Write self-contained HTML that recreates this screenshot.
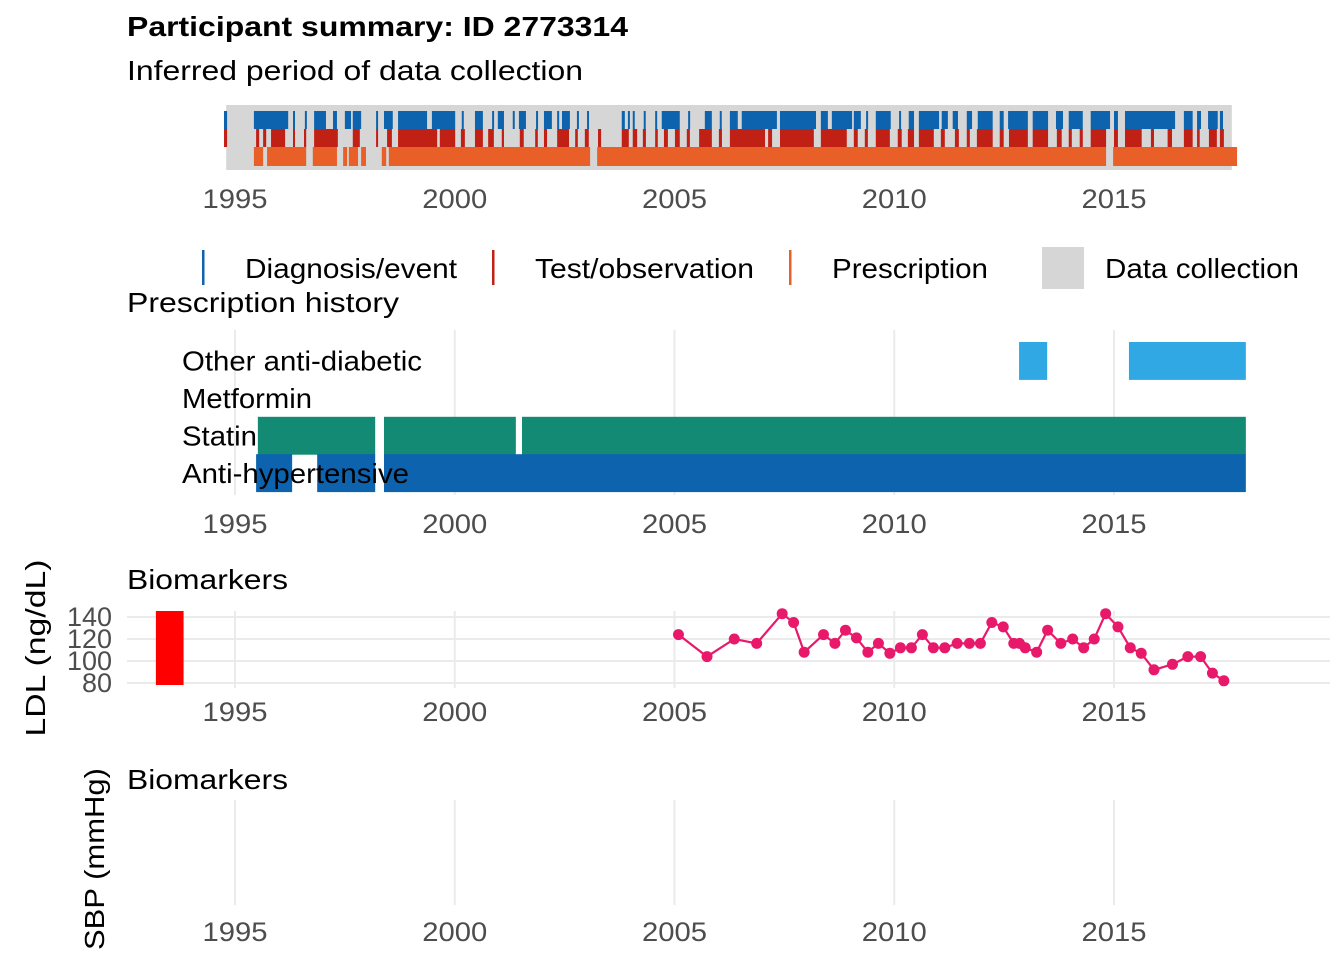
<!DOCTYPE html>
<html><head><meta charset="utf-8"><style>
html,body{margin:0;padding:0;background:#fff}
svg{display:block;font-family:"Liberation Sans",Arial,sans-serif}
</style></head><body>
<svg id="chart" width="1344" height="960" viewBox="0 0 1344 960">
<text x="127" y="36" font-size="28" font-weight="bold" fill="#000" textLength="501" lengthAdjust="spacingAndGlyphs">Participant summary: ID 2773314</text>
<text x="127" y="80" font-size="28" fill="#000" textLength="456" lengthAdjust="spacingAndGlyphs">Inferred period of data collection</text>
<g id="topPanel"></g>
<g id="legend">
  <rect x="202" y="250" width="2.5" height="35" fill="#0e63ae"/>
  <text x="245" y="278" font-size="28" fill="#000" textLength="212" lengthAdjust="spacingAndGlyphs">Diagnosis/event</text>
  <rect x="492" y="250" width="2.5" height="35" fill="#c12015"/>
  <text x="535" y="278" font-size="28" fill="#000" textLength="219" lengthAdjust="spacingAndGlyphs">Test/observation</text>
  <rect x="789" y="250" width="2.5" height="35" fill="#e85f27"/>
  <text x="832" y="278" font-size="28" fill="#000" textLength="156" lengthAdjust="spacingAndGlyphs">Prescription</text>
  <rect x="1042" y="247" width="42" height="42" fill="#d6d6d6"/>
  <text x="1105" y="278" font-size="28" fill="#000" textLength="194" lengthAdjust="spacingAndGlyphs">Data collection</text>
</g>
<text x="127" y="312" font-size="28" fill="#000" textLength="272" lengthAdjust="spacingAndGlyphs">Prescription history</text>
<g id="rx"></g>
<text x="127" y="589" font-size="28" fill="#000" textLength="161" lengthAdjust="spacingAndGlyphs">Biomarkers</text>
<g id="ldl"></g>
<text x="127" y="789" font-size="28" fill="#000" textLength="161" lengthAdjust="spacingAndGlyphs">Biomarkers</text>
<g id="sbp"></g>
<text transform="translate(45,648) rotate(-90)" text-anchor="middle" font-size="28" fill="#000" textLength="177" lengthAdjust="spacingAndGlyphs">LDL (ng/dL)</text>
<text transform="translate(104,859) rotate(-90)" text-anchor="middle" font-size="28" fill="#000" textLength="182" lengthAdjust="spacingAndGlyphs">SBP (mmHg)</text>
</svg>
<script>
const yearTicks = [1995, 2000, 2005, 2010, 2015];
const collectionPeriod = [1994.80, 2017.68];
const diagnosisEvents = [[1994.75,1994.82],[1995.43,1996.21],[1996.32,1996.34],[1996.59,1996.62],[1996.80,1997.07],[1997.23,1997.32],[1997.50,1997.64],[1997.68,1997.87],[1998.21,1998.23],[1998.39,1998.59],[1998.71,1999.37],[1999.48,2000.01],[2000.16,2000.19],[2000.46,2000.64],[2000.85,2000.87],[2000.98,2001.12],[2001.32,2001.35],[2001.46,2001.62],[2001.85,2001.87],[2002.03,2002.21],[2002.33,2002.35],[2002.44,2002.62],[2002.78,2002.80],[2003.01,2003.03],[2003.80,2003.87],[2003.94,2003.96],[2004.05,2004.08],[2004.30,2004.33],[2004.56,2004.58],[2004.71,2005.12],[2005.31,2005.33],[2005.69,2005.85],[2006.03,2006.06],[2006.26,2006.44],[2006.53,2007.33],[2007.40,2008.22],[2008.33,2008.49],[2008.58,2009.04],[2009.08,2009.24],[2009.36,2009.38],[2009.58,2009.92],[2010.11,2010.13],[2010.33,2010.45],[2010.56,2011.02],[2011.08,2011.22],[2011.33,2011.45],[2011.65,2011.77],[2011.90,2012.24],[2012.40,2012.49],[2012.59,2013.04],[2013.15,2013.50],[2013.68,2013.84],[2013.97,2014.29],[2014.47,2014.91],[2015.00,2015.09],[2015.25,2016.39],[2016.59,2016.79],[2016.89,2016.98],[2017.14,2017.36],[2017.41,2017.48]];
const testEvents = [[1994.75,1994.82],[1995.48,1995.55],[1995.64,1995.71],[1995.82,1996.14],[1996.32,1996.34],[1996.57,1996.62],[1996.80,1997.34],[1997.68,1997.84],[1998.21,1998.23],[1998.46,1998.57],[1998.71,1999.60],[1999.66,2000.01],[2000.14,2000.23],[2000.46,2000.64],[2000.76,2000.89],[2001.07,2001.12],[2001.48,2001.57],[2001.83,2001.89],[2002.03,2002.10],[2002.33,2002.60],[2002.74,2002.80],[2002.96,2003.05],[2003.26,2003.33],[2003.80,2003.96],[2004.05,2004.15],[2004.28,2004.35],[2004.56,2004.62],[2004.76,2004.85],[2005.01,2005.12],[2005.28,2005.35],[2005.56,2005.85],[2006.01,2006.08],[2006.26,2007.06],[2007.13,2007.22],[2007.40,2008.17],[2008.33,2008.92],[2009.08,2009.17],[2009.33,2009.40],[2009.58,2009.90],[2010.08,2010.17],[2010.31,2010.45],[2010.56,2010.90],[2011.06,2011.15],[2011.38,2011.47],[2011.65,2011.72],[2011.88,2012.24],[2012.40,2012.49],[2012.61,2013.04],[2013.15,2013.50],[2013.70,2013.81],[2013.97,2014.04],[2014.22,2014.29],[2014.47,2014.82],[2015.00,2015.09],[2015.25,2015.63],[2015.84,2015.91],[2016.22,2016.32],[2016.59,2016.79],[2016.89,2016.95],[2017.16,2017.34],[2017.41,2017.50]];
const prescriptionEvents = [[1995.43,1995.64],[1995.73,1996.62],[1996.77,1997.32],[1997.46,1997.55],[1997.59,1997.80],[1997.87,1997.98],[1998.34,1998.44],[1998.50,2003.08],[2003.24,2014.82],[2014.98,2017.80]];
const drugNames = ["Other anti-diabetic","Metformin","Statin","Anti-hypertensive"];
const drugLabelWidths = [240,130,75,227];
const otherAntiDiabetic = [[2012.84,2013.48],[2015.34,2018.0]];
const metformin = [];
const statin = [[1995.52,1998.19],[1998.39,2001.39],[2001.53,2018.0]];
const antiHypertensive = [[1995.48,1996.30],[1996.87,1998.19],[1998.39,2018.0]];
const ldlYears = [2005.09,2005.74,2006.36,2006.87,2007.45,2007.71,2007.95,2008.39,2008.65,2008.89,2009.14,2009.40,2009.64,2009.90,2010.14,2010.39,2010.64,2010.89,2011.15,2011.43,2011.71,2011.96,2012.22,2012.48,2012.72,2012.85,2012.98,2013.24,2013.49,2013.79,2014.06,2014.31,2014.55,2014.81,2015.09,2015.37,2015.62,2015.91,2016.33,2016.68,2016.97,2017.24,2017.50];
const ldlValues = [124,104,120,116,143,135,108,124,116,128,121,108,116,107,112,112,124,112,112,116,116,116,135,131,116,116,112,108,128,116,120,112,120,143,131,112,107,92,97,104,104,89,82];
const ldlTicks = [80,100,120,140];
const missingWindow = [1993.2, 1993.83];

const NS = "http://www.w3.org/2000/svg";
function X(y){ return 235 + (y - 1995) * 43.95; }
function mk(parent, tag, attrs){ const e = document.createElementNS(NS, tag); for (const k in attrs) e.setAttribute(k, attrs[k]); parent.appendChild(e); return e; }

const topG = document.getElementById('topPanel');
const band = mk(topG,'rect',{x:X(collectionPeriod[0]),y:105,width:X(collectionPeriod[1])-X(collectionPeriod[0]),height:65,fill:'#d6d6d6'});


function drawEvents(arr, y0, h, color, name){
  arr.forEach(function(ev){
    const w = Math.max(2, X(ev[1]) - X(ev[0]));
    const r = mk(topG,'rect',{x:X(ev[0]),y:y0,width:w,height:h,fill:color});
    
    
  });
}
drawEvents(diagnosisEvents,111,18,'#0e63ae','diagnosis-tick');
drawEvents(testEvents,129,18,'#c12015','test-tick');
drawEvents(prescriptionEvents,147,19,'#e85f27','prescription-tick');
function xLabels(g, y, name){
  yearTicks.forEach(function(t){
    const tx = mk(g,'text',{x:X(t),y:y,'text-anchor':'middle','font-size':'27',fill:'#4d4d4d',textLength:'65',lengthAdjust:'spacingAndGlyphs'});
    tx.textContent = t;
    
    
  });
}
xLabels(topG, 208, 'top-x-tick-label');

const rx = document.getElementById('rx');
function vgrid(g, y1, y2, name){
  yearTicks.forEach(function(t){
    const l = mk(g,'line',{x1:X(t),x2:X(t),y1:y1,y2:y2,stroke:'#ebebeb','stroke-width':2});
    
    
  });
}
vgrid(rx, 330, 495, 'rx-gridline');
const rowTop = 342, rowH = 37.4;
const rxSeries = [otherAntiDiabetic, metformin, statin, antiHypertensive];
const rxColors = ['#2fa8e4','#7f7f7f','#138a73','#0e63ae'];
rxSeries.forEach(function(s,i){
  s.forEach(function(seg){
    const r = mk(rx,'rect',{x:X(seg[0]),y:rowTop+i*rowH,width:X(seg[1])-X(seg[0]),height:rowH+0.5,fill:rxColors[i]});
    
    
  });
});
drugNames.forEach(function(n,i){
  const t = mk(rx,'text',{x:182,y:rowTop+i*rowH+rowH/2+10,'font-size':'28',fill:'#000',textLength:drugLabelWidths[i],lengthAdjust:'spacingAndGlyphs'});
  t.textContent = n;
  
  
});
xLabels(rx, 533, 'rx-x-tick-label');

const ldl = document.getElementById('ldl');
function Y(v){ return 617 + (140 - v) * 1.1; }
ldlTicks.forEach(function(v){
  const l = mk(ldl,'line',{x1:127,x2:1330,y1:Y(v),y2:Y(v),stroke:'#ebebeb','stroke-width':2});
  
  
  const t = mk(ldl,'text',{x:112,y:Y(v)+9,'text-anchor':'end','font-size':'27',fill:'#4d4d4d',textLength:(String(v).length*15),lengthAdjust:'spacingAndGlyphs'});
  t.textContent = v;
  
  
});
vgrid(ldl, 611, 688, 'ldl-v-gridline');
const miss = mk(ldl,'rect',{x:X(missingWindow[0]),y:611,width:X(missingWindow[1])-X(missingWindow[0]),height:74,fill:'#ff0000'});


let d = '';
ldlYears.forEach(function(y,i){ d += (i?'L':'M') + X(y).toFixed(1) + ' ' + Y(ldlValues[i]).toFixed(1); });
const path = mk(ldl,'path',{d:d,fill:'none',stroke:'#e8196a','stroke-width':2.2});


ldlYears.forEach(function(y,i){
  const c = mk(ldl,'circle',{cx:X(y),cy:Y(ldlValues[i]),r:5.5,fill:'#e8196a'});
  
  
});
xLabels(ldl, 721, 'ldl-x-tick-label');

const sbp = document.getElementById('sbp');
vgrid(sbp, 800, 905, 'sbp-v-gridline');
xLabels(sbp, 941, 'sbp-x-tick-label');
</script>
</body></html>
